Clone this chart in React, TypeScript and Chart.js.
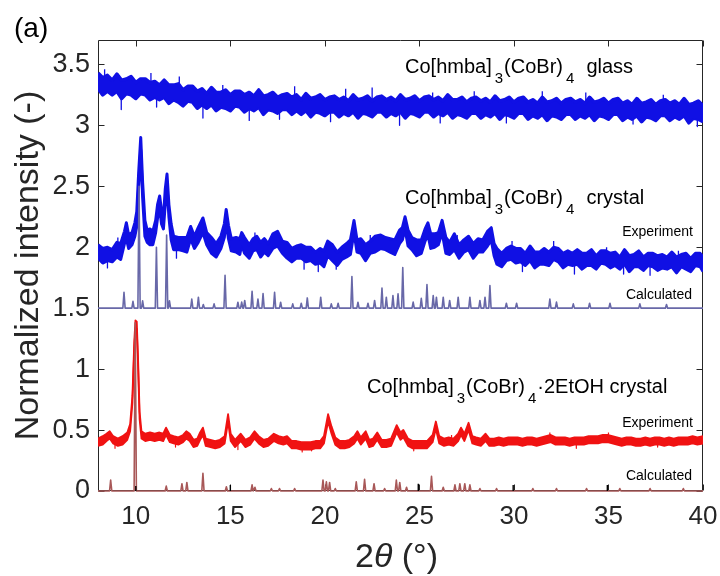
import React, { useEffect, useRef } from 'react';
import { Chart, registerables } from 'chart.js';

Chart.register(...registerables);

// ---------- axes ----------
const xTicks = [10, 15, 20, 25, 30, 35, 40];
const yTicks = [0, 0.5, 1, 1.5, 2, 2.5, 3, 3.5];
const xMin = 8;
const xMax = 40;
const yMin = 0;
const yMax = 3.7;

// ---------- data: [2θ, lower edge, upper edge] of the measured (noisy) band ----------
const glassExp: number[][] = [
  [8.0, 3.3, 3.43], [8.25, 3.25, 3.39], [8.5, 3.28, 3.41], [8.75, 3.25, 3.37], [9.0, 3.28, 3.42],
  [9.25, 3.22, 3.37], [9.5, 3.26, 3.38], [9.75, 3.25, 3.4], [10.0, 3.22, 3.35], [10.25, 3.26, 3.38],
  [10.5, 3.25, 3.38], [10.75, 3.21, 3.35], [11.0, 3.23, 3.36], [11.25, 3.21, 3.33], [11.5, 3.23, 3.37],
  [11.75, 3.18, 3.33], [12.0, 3.21, 3.33], [12.25, 3.19, 3.34], [12.5, 3.16, 3.29], [12.75, 3.2, 3.32],
  [13.0, 3.19, 3.32], [13.25, 3.14, 3.28], [13.5, 3.17, 3.3], [13.75, 3.14, 3.26], [14.0, 3.17, 3.31],
  [14.25, 3.12, 3.27], [14.5, 3.15, 3.27], [14.75, 3.14, 3.29], [15.0, 3.12, 3.25], [15.25, 3.16, 3.28],
  [15.5, 3.15, 3.28], [15.75, 3.11, 3.25], [16.0, 3.14, 3.27], [16.25, 3.12, 3.24], [16.5, 3.15, 3.29],
  [16.75, 3.09, 3.24], [17.0, 3.13, 3.25], [17.25, 3.12, 3.27], [17.5, 3.1, 3.23], [17.75, 3.13, 3.25],
  [18.0, 3.13, 3.26], [18.25, 3.09, 3.23], [18.5, 3.12, 3.25], [18.75, 3.09, 3.21], [19.0, 3.12, 3.26],
  [19.25, 3.07, 3.22], [19.5, 3.11, 3.23], [19.75, 3.1, 3.25], [20.0, 3.08, 3.21], [20.25, 3.11, 3.23],
  [20.5, 3.11, 3.24], [20.75, 3.07, 3.21], [21.0, 3.1, 3.23], [21.25, 3.08, 3.2], [21.5, 3.11, 3.25],
  [21.75, 3.06, 3.21], [22.0, 3.1, 3.22], [22.25, 3.09, 3.24], [22.5, 3.07, 3.2], [22.75, 3.11, 3.23],
  [23.0, 3.11, 3.24], [23.25, 3.07, 3.21], [23.5, 3.1, 3.23], [23.75, 3.08, 3.2], [24.0, 3.11, 3.25],
  [24.25, 3.06, 3.21], [24.5, 3.1, 3.22], [24.75, 3.09, 3.24], [25.0, 3.07, 3.2], [25.25, 3.11, 3.23],
  [25.5, 3.11, 3.24], [25.75, 3.07, 3.21], [26.0, 3.1, 3.23], [26.25, 3.08, 3.2], [26.5, 3.11, 3.25],
  [26.75, 3.06, 3.21], [27.0, 3.09, 3.21], [27.25, 3.08, 3.23], [27.5, 3.06, 3.19], [27.75, 3.1, 3.22],
  [28.0, 3.1, 3.23], [28.25, 3.06, 3.2], [28.5, 3.09, 3.22], [28.75, 3.07, 3.19], [29.0, 3.1, 3.24],
  [29.25, 3.05, 3.2], [29.5, 3.09, 3.21], [29.75, 3.08, 3.23], [30.0, 3.06, 3.19], [30.25, 3.1, 3.22],
  [30.5, 3.1, 3.23], [30.75, 3.05, 3.19], [31.0, 3.08, 3.21], [31.25, 3.06, 3.18], [31.5, 3.09, 3.23],
  [31.75, 3.04, 3.19], [32.0, 3.08, 3.2], [32.25, 3.07, 3.22], [32.5, 3.05, 3.18], [32.75, 3.09, 3.21],
  [33.0, 3.09, 3.22], [33.25, 3.05, 3.19], [33.5, 3.08, 3.21], [33.75, 3.06, 3.18], [34.0, 3.09, 3.23],
  [34.25, 3.04, 3.19], [34.5, 3.08, 3.2], [34.75, 3.07, 3.22], [35.0, 3.05, 3.18], [35.25, 3.09, 3.21],
  [35.5, 3.09, 3.22], [35.75, 3.04, 3.18], [36.0, 3.07, 3.2], [36.25, 3.05, 3.17], [36.5, 3.08, 3.22],
  [36.75, 3.03, 3.18], [37.0, 3.07, 3.19], [37.25, 3.06, 3.21], [37.5, 3.04, 3.17], [37.75, 3.08, 3.2],
  [38.0, 3.08, 3.21], [38.25, 3.04, 3.18], [38.5, 3.07, 3.2], [38.75, 3.05, 3.17], [39.0, 3.08, 3.22],
  [39.25, 3.02, 3.17], [39.5, 3.06, 3.18], [39.75, 3.05, 3.2], [40.0, 3.03, 3.16],
];
// isolated noise spikes: [2θ, from, to]
const glassSpikes: number[][] = [
  [8.35, 3.38, 3.46], [9.23, 3.28, 3.13], [10.8, 3.34, 3.43], [11.1, 3.25, 3.15], [12.3, 3.3, 3.4],
  [13.55, 3.2, 3.06], [14.6, 3.25, 3.33], [16.0, 3.17, 3.04], [17.6, 3.16, 3.05], [18.4, 3.21, 3.32],
  [20.3, 3.13, 3.03], [21.1, 3.2, 3.3], [22.5, 3.2, 3.31], [23.95, 3.12, 3.0], [25.7, 3.2, 3.27],
  [26.1, 3.12, 3.02], [27.9, 3.19, 3.28], [29.6, 3.11, 3.02], [31.5, 3.18, 3.28], [33.8, 3.18, 3.27],
  [36.3, 3.1, 3.01], [37.9, 3.17, 3.25], [39.7, 3.09, 2.99],
];

const crystalExp: number[][] = [
  [8.0, 1.91, 2.02], [8.25, 1.87, 1.99], [8.5, 1.89, 2.0], [8.75, 1.88, 1.98], [9.0, 1.92, 2.04],
  [9.2, 1.9, 2.03], [9.4, 2.03, 2.13], [9.5, 2.07, 2.2], [9.62, 1.99, 2.1], [9.8, 2.02, 2.12],
  [9.95, 2.09, 2.2], [10.05, 2.17, 2.29], [10.15, 2.5, 2.61], [10.26, 2.8, 2.9], [10.36, 2.41, 2.53],
  [10.48, 2.09, 2.22], [10.6, 2.04, 2.14], [10.75, 2.02, 2.15], [10.9, 2.02, 2.13], [11.05, 2.12, 2.22],
  [11.15, 2.24, 2.35], [11.26, 2.32, 2.42], [11.36, 2.19, 2.3], [11.46, 2.15, 2.25], [11.56, 2.36, 2.48],
  [11.65, 2.5, 2.6], [11.75, 2.25, 2.35], [11.87, 2.06, 2.19], [12.0, 1.98, 2.09], [12.25, 1.98, 2.08],
  [12.5, 1.97, 2.08], [12.7, 1.96, 2.08], [12.9, 2.07, 2.17], [13.1, 1.99, 2.09], [13.3, 2.04, 2.16],
  [13.55, 2.12, 2.24], [13.75, 2.02, 2.12], [14.0, 1.95, 2.08], [14.25, 1.92, 2.03], [14.5, 1.99, 2.09],
  [14.68, 2.08, 2.19], [14.78, 2.21, 2.31], [14.9, 2.07, 2.18], [15.05, 1.97, 2.07], [15.3, 1.96, 2.08],
  [15.5, 1.94, 2.07], [15.6, 2.02, 2.12], [15.75, 1.95, 2.08], [16.0, 1.91, 2.02], [16.2, 1.97, 2.07],
  [16.4, 1.98, 2.09], [16.6, 1.92, 2.04], [16.8, 1.96, 2.07], [17.0, 1.93, 2.03], [17.25, 1.99, 2.11],
  [17.5, 2.01, 2.13], [17.75, 1.95, 2.05], [18.0, 1.91, 2.04], [18.25, 1.88, 1.99], [18.5, 1.91, 2.01],
  [18.75, 1.91, 2.02], [19.0, 1.88, 2.0], [19.25, 1.89, 2.0], [19.5, 1.86, 1.96], [19.75, 1.87, 1.99],
  [19.95, 1.84, 1.97], [20.15, 1.93, 2.05], [20.4, 1.89, 2.02], [20.65, 1.85, 1.96], [20.9, 1.9, 2.0],
  [21.15, 1.92, 2.03], [21.35, 1.94, 2.06], [21.54, 2.12, 2.22], [21.7, 1.96, 2.06], [21.9, 1.95, 2.07],
  [22.15, 1.89, 2.02], [22.4, 1.95, 2.05], [22.65, 1.96, 2.09], [22.95, 1.99, 2.1], [23.2, 1.98, 2.08],
  [23.45, 1.96, 2.07], [23.7, 1.94, 2.06], [23.95, 2.03, 2.14], [24.1, 2.06, 2.16], [24.24, 2.15, 2.25],
  [24.4, 2.01, 2.14], [24.6, 1.98, 2.08], [24.85, 1.93, 2.06], [25.1, 1.95, 2.06], [25.3, 2.05, 2.15],
  [25.45, 2.1, 2.2], [25.6, 1.99, 2.11], [25.8, 2.0, 2.11], [26.0, 2.02, 2.12], [26.2, 2.12, 2.22],
  [26.4, 1.95, 2.08], [26.6, 1.94, 2.04], [26.85, 1.98, 2.11], [27.1, 1.91, 2.02], [27.35, 1.96, 2.06],
  [27.6, 1.98, 2.09], [27.85, 1.91, 2.03], [28.1, 1.96, 2.07], [28.35, 1.96, 2.06], [28.6, 2.01, 2.13],
  [28.8, 2.06, 2.16], [28.95, 1.93, 2.03], [29.1, 1.86, 1.99], [29.35, 1.84, 1.95], [29.6, 1.89, 1.99],
  [29.85, 1.9, 2.01], [30.1, 1.87, 1.99], [30.35, 1.88, 1.99], [30.6, 1.85, 1.95], [30.85, 1.89, 2.01],
  [31.1, 1.83, 1.96], [31.35, 1.86, 1.96], [31.6, 1.86, 1.99], [31.85, 1.85, 1.96], [32.1, 1.9, 2.0],
  [32.35, 1.88, 1.99], [32.6, 1.83, 1.95], [32.85, 1.86, 1.97], [33.1, 1.85, 1.95], [33.35, 1.86, 1.98],
  [33.6, 1.82, 1.95], [33.85, 1.85, 1.95], [34.1, 1.85, 1.98], [34.35, 1.82, 1.93], [34.6, 1.87, 1.97],
  [34.85, 1.86, 1.97], [35.1, 1.83, 1.95], [35.35, 1.85, 1.96], [35.6, 1.82, 1.92], [35.85, 1.86, 1.98],
  [36.1, 1.8, 1.93], [36.35, 1.84, 1.94], [36.6, 1.84, 1.97], [36.85, 1.81, 1.92], [37.1, 1.85, 1.95],
  [37.35, 1.84, 1.95], [37.6, 1.81, 1.93], [37.85, 1.83, 1.94], [38.1, 1.82, 1.92], [38.35, 1.84, 1.96],
  [38.6, 1.79, 1.92], [38.85, 1.84, 1.94], [39.1, 1.82, 1.95], [39.35, 1.8, 1.91], [39.6, 1.85, 1.95],
  [39.85, 1.84, 1.95], [40.0, 1.8, 1.92],
];
const crystalSpikes: number[][] = [
  [8.5, 1.93, 1.83], [9.05, 1.98, 2.08], [12.15, 2.02, 1.91], [16.3, 2.02, 2.12], [18.9, 1.94, 1.82],
  [19.65, 1.9, 1.8], [20.6, 1.93, 1.82], [22.4, 2.0, 2.1], [27.0, 2.0, 2.1], [29.9, 1.95, 2.05],
  [30.45, 1.92, 1.8], [32.1, 1.95, 2.05], [33.2, 1.9, 1.78], [34.9, 1.92, 2.0], [35.8, 1.9, 1.78],
  [37.2, 1.89, 1.77], [38.7, 1.89, 1.97],
];

const etohExp: number[][] = [
  [8.0, 0.37, 0.43], [8.25, 0.38, 0.45], [8.45, 0.41, 0.47], [8.62, 0.43, 0.49], [8.8, 0.39, 0.45],
  [9.05, 0.37, 0.43], [9.3, 0.38, 0.45], [9.55, 0.42, 0.48], [9.7, 0.49, 0.55], [9.82, 0.72, 0.78],
  [9.92, 1.17, 1.23], [9.98, 1.34, 1.4], [10.05, 1.33, 1.39], [10.12, 1.02, 1.08], [10.2, 0.59, 0.65],
  [10.3, 0.43, 0.49], [10.5, 0.41, 0.47], [10.75, 0.42, 0.48], [11.0, 0.41, 0.47], [11.25, 0.42, 0.48],
  [11.45, 0.41, 0.47], [11.6, 0.46, 0.52], [11.8, 0.4, 0.46], [12.0, 0.39, 0.45], [12.25, 0.38, 0.44],
  [12.5, 0.4, 0.46], [12.67, 0.43, 0.49], [12.85, 0.41, 0.47], [13.05, 0.36, 0.42], [13.25, 0.37, 0.43],
  [13.4, 0.42, 0.48], [13.55, 0.46, 0.52], [13.7, 0.37, 0.43], [13.95, 0.36, 0.42], [14.2, 0.35, 0.41],
  [14.45, 0.36, 0.42], [14.7, 0.39, 0.45], [14.88, 0.57, 0.63], [15.02, 0.41, 0.47], [15.25, 0.36, 0.42],
  [15.55, 0.41, 0.47], [15.8, 0.36, 0.42], [16.05, 0.38, 0.44], [16.28, 0.43, 0.49], [16.5, 0.39, 0.45],
  [16.75, 0.36, 0.42], [17.0, 0.37, 0.43], [17.3, 0.41, 0.47], [17.55, 0.39, 0.45], [17.8, 0.38, 0.44],
  [18.0, 0.39, 0.45], [18.25, 0.35, 0.41], [18.5, 0.35, 0.41], [18.75, 0.34, 0.4], [19.0, 0.34, 0.4],
  [19.25, 0.34, 0.4], [19.5, 0.35, 0.41], [19.75, 0.35, 0.41], [19.95, 0.39, 0.45], [20.17, 0.57, 0.63],
  [20.35, 0.47, 0.53], [20.55, 0.38, 0.44], [20.8, 0.35, 0.41], [21.05, 0.35, 0.41], [21.3, 0.36, 0.42],
  [21.55, 0.39, 0.45], [21.72, 0.43, 0.49], [21.9, 0.38, 0.44], [22.16, 0.43, 0.49], [22.35, 0.36, 0.42],
  [22.55, 0.37, 0.43], [22.77, 0.42, 0.48], [23.0, 0.36, 0.42], [23.25, 0.36, 0.42], [23.5, 0.37, 0.43],
  [23.8, 0.48, 0.54], [24.0, 0.42, 0.48], [24.15, 0.44, 0.5], [24.4, 0.37, 0.43], [24.65, 0.35, 0.41],
  [24.9, 0.35, 0.41], [25.15, 0.35, 0.41], [25.4, 0.35, 0.41], [25.7, 0.4, 0.46], [25.87, 0.51, 0.57],
  [26.05, 0.39, 0.45], [26.3, 0.37, 0.43], [26.55, 0.38, 0.44], [26.8, 0.37, 0.43], [27.05, 0.41, 0.47],
  [27.2, 0.46, 0.52], [27.38, 0.41, 0.47], [27.6, 0.5, 0.56], [27.8, 0.39, 0.45], [28.0, 0.38, 0.44],
  [28.25, 0.37, 0.43], [28.5, 0.41, 0.47], [28.7, 0.37, 0.43], [28.95, 0.37, 0.43], [29.2, 0.38, 0.44],
  [29.45, 0.37, 0.43], [29.7, 0.38, 0.44], [29.95, 0.38, 0.44], [30.2, 0.38, 0.44], [30.45, 0.37, 0.43],
  [30.7, 0.38, 0.44], [30.95, 0.38, 0.44], [31.2, 0.37, 0.43], [31.45, 0.38, 0.44], [31.7, 0.39, 0.45],
  [31.95, 0.4, 0.46], [32.2, 0.38, 0.44], [32.45, 0.38, 0.44], [32.7, 0.38, 0.44], [32.95, 0.37, 0.43],
  [33.2, 0.38, 0.44], [33.45, 0.38, 0.44], [33.7, 0.38, 0.44], [33.95, 0.39, 0.45], [34.2, 0.39, 0.45],
  [34.45, 0.39, 0.45], [34.7, 0.4, 0.46], [34.95, 0.4, 0.46], [35.2, 0.39, 0.45], [35.45, 0.38, 0.44],
  [35.7, 0.37, 0.43], [35.95, 0.38, 0.44], [36.2, 0.38, 0.44], [36.45, 0.37, 0.43], [36.7, 0.37, 0.43],
  [36.95, 0.38, 0.44], [37.2, 0.37, 0.43], [37.45, 0.38, 0.44], [37.7, 0.38, 0.44], [37.95, 0.37, 0.43],
  [38.2, 0.38, 0.44], [38.45, 0.37, 0.43], [38.7, 0.38, 0.44], [38.95, 0.38, 0.44], [39.2, 0.38, 0.44],
  [39.45, 0.39, 0.45], [39.7, 0.38, 0.44], [40.0, 0.39, 0.45],
];
const etohSpikes: number[][] = [
  [8.9, 0.4, 0.35], [12.1, 0.42, 0.36], [15.4, 0.39, 0.34], [18.8, 0.37, 0.32], [19.3, 0.37, 0.33],
  [24.7, 0.38, 0.33], [26.7, 0.4, 0.46], [31.9, 0.43, 0.48], [33.3, 0.41, 0.35], [35.0, 0.43, 0.48],
  [37.6, 0.41, 0.36],
];

// ---------- calculated patterns: [2θ, peak top] ----------
const crystalCalcBase = 1.5;
const crystalCalcPeaks: number[][] = [
  [9.375, 1.63], [9.85, 1.556], [10.17, 2.5], [10.36, 1.56], [11.09, 2.0], [11.63, 2.1], [11.78, 1.56],
  [12.96, 1.575], [13.31, 1.59], [13.57, 1.53], [14.14, 1.535], [14.72, 1.77], [15.4, 1.549], [15.6, 1.55],
  [15.76, 1.563], [16.15, 1.638], [16.46, 1.575], [16.73, 1.62], [17.34, 1.63], [17.66, 1.549], [18.3, 1.535],
  [18.75, 1.54], [19.07, 1.584], [19.78, 1.59], [20.34, 1.535], [20.7, 1.54], [21.43, 1.76], [21.75, 1.549],
  [22.28, 1.54], [22.63, 1.563], [23.02, 1.666], [23.25, 1.59], [23.6, 1.603], [23.87, 1.617], [24.12, 1.834],
  [24.67, 1.55], [25.1, 1.58], [25.4, 1.693], [25.73, 1.603], [25.9, 1.59], [26.26, 1.59], [26.6, 1.563],
  [27.05, 1.59], [27.67, 1.59], [28.2, 1.563], [28.47, 1.59], [28.73, 1.685], [29.6, 1.54], [30.14, 1.54],
  [31.9, 1.575], [32.25, 1.55], [33.14, 1.535], [34.0, 1.54], [35.08, 1.54], [36.66, 1.535], [38.07, 1.53],
];

const etohCalcBase = 0;
const etohCalcPeaks: number[][] = [
  [8.67, 0.09], [9.97, 1.38], [11.61, 0.04], [12.44, 0.06], [12.7, 0.07], [13.55, 0.145], [14.79, 0.035],
  [16.15, 0.05], [16.3, 0.03], [17.17, 0.02], [17.6, 0.02], [18.4, 0.02], [19.9, 0.09], [20.08, 0.075],
  [20.25, 0.07], [20.55, 0.02], [21.66, 0.075], [22.1, 0.095], [22.6, 0.06], [23.16, 0.02], [23.78, 0.09],
  [23.96, 0.07], [24.32, 0.03], [25.64, 0.12], [26.26, 0.03], [26.88, 0.05], [27.14, 0.06], [27.4, 0.06],
  [27.67, 0.05], [28.2, 0.02], [29.08, 0.02], [31.0, 0.02], [32.25, 0.02], [33.84, 0.02], [35.6, 0.02],
  [37.2, 0.02], [38.96, 0.02],
];

const blackMarks: number[][] = [
  [10.0, 0.04], [15.0, 0.05], [24.94, 0.06], [29.96, 0.05], [34.94, 0.05],
];

// ---------- text ----------
type Part = { t: string; sub?: boolean };
const sampleLabels: { x: number; y: number; parts: Part[] }[] = [
  { x: 24.24, y: 3.426, parts: [{ t: 'Co[hmba]' }, { t: '3', sub: true }, { t: '(CoBr)' }, { t: '4', sub: true }, { t: '  glass' }] },
  { x: 24.24, y: 2.355, parts: [{ t: 'Co[hmba]' }, { t: '3', sub: true }, { t: '(CoBr)' }, { t: '4', sub: true }, { t: '  crystal' }] },
  { x: 22.23, y: 0.801, parts: [{ t: 'Co[hmba]' }, { t: '3', sub: true }, { t: '(CoBr)' }, { t: '4', sub: true }, { t: '·2EtOH crystal' }] },
];
const smallLabels: { x: number; y: number; t: string }[] = [
  { x: 39.47, y: 2.093, t: 'Experiment' },
  { x: 39.42, y: 1.578, t: 'Calculated' },
  { x: 39.47, y: 0.523, t: 'Experiment' },
  { x: 39.42, y: 0.09, t: 'Calculated' },
];
const panelLabel = '(a)';
const yTitle = 'Normalized intensity (-)';

// ---------- styles ----------
const FONT = '"Liberation Sans", Arial, Helvetica, sans-serif';
const BLUE = 'rgb(16,16,228)';
const PURPLE = 'rgb(104,104,168)';
const RED = 'rgb(240,18,18)';
const BROWN = 'rgb(168,88,88)';
const AXIS = '#262626';
const STICK_HW = 0.06;

function bandEdge(rows: number[][], i: number) {
  return rows.map((r) => ({ x: r[0], y: r[i] }));
}

function spikeSegments(rows: number[][]) {
  const pts: { x: number; y: number | null }[] = [];
  for (const [x, a, b] of rows) {
    pts.push({ x, y: a }, { x, y: b }, { x, y: null });
  }
  return pts;
}

function stickProfile(peaks: number[][], base: number) {
  const pts: { x: number; y: number }[] = [{ x: xMin, y: base }];
  for (const [x, top] of peaks) {
    pts.push({ x: x - STICK_HW, y: base }, { x, y: top }, { x: x + STICK_HW, y: base });
  }
  pts.push({ x: xMax, y: base });
  return pts;
}

function stickMarks(peaks: number[][]) {
  const pts: { x: number; y: number | null }[] = [];
  for (const [x, top] of peaks) {
    pts.push({ x, y: 0 }, { x, y: top }, { x, y: null });
  }
  return pts;
}

function drawRich(ctx: CanvasRenderingContext2D, x: number, y: number, parts: Part[]) {
  let cx = x;
  ctx.textAlign = 'left';
  ctx.textBaseline = 'alphabetic';
  for (const p of parts) {
    if (p.sub) {
      ctx.font = `15px ${FONT}`;
      cx += 3;
      ctx.fillText(p.t, cx, y + 10);
      cx += ctx.measureText(p.t).width + 1;
    } else {
      ctx.font = `20px ${FONT}`;
      ctx.fillText(p.t, cx, y);
      cx += ctx.measureText(p.t).width;
    }
  }
}

const decorations = {
  id: 'decorations',
  beforeDatasetsDraw(chart: any) {
    const { ctx, chartArea: a, scales } = chart;
    const xs = scales.x;
    const ys = scales.y;
    ctx.save();
    ctx.strokeStyle = AXIS;
    ctx.lineWidth = 1;
    const L = Math.round(a.left) + 0.5;
    const R = Math.round(a.right) - 0.5;
    const T = Math.round(a.top) + 0.5;
    const B = Math.round(a.bottom) - 0.5;
    ctx.beginPath();
    ctx.rect(L, T, R - L, B - T);
    const tl = 6;
    for (const v of xTicks) {
      const p = Math.round(xs.getPixelForValue(v)) + 0.5;
      ctx.moveTo(p, B);
      ctx.lineTo(p, B - tl);
      ctx.moveTo(p, T);
      ctx.lineTo(p, T + tl);
    }
    for (const v of yTicks) {
      const p = Math.round(ys.getPixelForValue(v)) + 0.5;
      ctx.moveTo(L, p);
      ctx.lineTo(L + tl, p);
      ctx.moveTo(R, p);
      ctx.lineTo(R - tl, p);
    }
    ctx.stroke();
    ctx.restore();
  },
  afterDraw(chart: any) {
    const { ctx, scales, chartArea: a } = chart;
    const xs = scales.x;
    const ys = scales.y;
    ctx.save();
    ctx.fillStyle = '#000';
    for (const l of sampleLabels) {
      drawRich(ctx, xs.getPixelForValue(l.x), ys.getPixelForValue(l.y), l.parts);
    }
    ctx.font = `14px ${FONT}`;
    ctx.textAlign = 'right';
    ctx.textBaseline = 'alphabetic';
    for (const l of smallLabels) {
      ctx.fillText(l.t, xs.getPixelForValue(l.x), ys.getPixelForValue(l.y));
    }
    // panel label
    ctx.font = `28px ${FONT}`;
    ctx.textAlign = 'left';
    ctx.fillText(panelLabel, 14, 37);
    // x axis title: 2θ (°) with italic θ
    ctx.fillStyle = AXIS;
    const parts = [
      { t: '2', f: `34px ${FONT}` },
      { t: 'θ', f: `italic 34px ${FONT}` },
      { t: ' (°)', f: `34px ${FONT}` },
    ];
    let w = 0;
    for (const p of parts) {
      ctx.font = p.f;
      w += ctx.measureText(p.t).width;
    }
    let cx = (a.left + a.right) / 2 - 4 - w / 2;
    for (const p of parts) {
      ctx.font = p.f;
      ctx.fillText(p.t, cx, 567);
      cx += ctx.measureText(p.t).width;
    }
    ctx.restore();
  },
};

export default function App() {
  const ref = useRef<HTMLCanvasElement | null>(null);
  useEffect(() => {
    if (!ref.current) return;
    const line = (extra: any) => ({
      pointRadius: 0,
      tension: 0,
      borderJoinStyle: 'round',
      ...extra,
    });
    const chart = new Chart(ref.current, {
      type: 'line',
      data: {
        datasets: [
          line({ data: bandEdge(glassExp, 2), borderColor: BLUE, backgroundColor: BLUE, borderWidth: 3.5, fill: '+1', order: 3 }),
          line({ data: bandEdge(glassExp, 1), borderColor: BLUE, borderWidth: 3.5, fill: false, order: 3 }),
          line({ data: spikeSegments(glassSpikes), borderColor: BLUE, borderWidth: 1.3, fill: false, order: 3, spanGaps: false }),
          line({ data: bandEdge(crystalExp, 2), borderColor: BLUE, backgroundColor: BLUE, borderWidth: 3, fill: '+1', order: 3 }),
          line({ data: bandEdge(crystalExp, 1), borderColor: BLUE, borderWidth: 3, fill: false, order: 3 }),
          line({ data: spikeSegments(crystalSpikes), borderColor: BLUE, borderWidth: 1.3, fill: false, order: 3, spanGaps: false }),
          line({ data: stickProfile(crystalCalcPeaks, crystalCalcBase), borderColor: PURPLE, borderWidth: 1.6, fill: false, order: 1 }),
          line({ data: bandEdge(etohExp, 2), borderColor: RED, backgroundColor: RED, borderWidth: 1.8, fill: '+1', order: 3 }),
          line({ data: bandEdge(etohExp, 1), borderColor: RED, borderWidth: 1.8, fill: false, order: 3 }),
          line({ data: spikeSegments(etohSpikes), borderColor: RED, borderWidth: 1.2, fill: false, order: 3, spanGaps: false }),
          line({ data: stickProfile(etohCalcPeaks, etohCalcBase), borderColor: BROWN, borderWidth: 1.6, fill: false, order: 1, clip: 3 }),
          line({ data: stickMarks(blackMarks), borderColor: '#000', borderWidth: 1.4, fill: false, order: 0, spanGaps: false, clip: 3 }),
        ],
      },
      options: {
        responsive: false,
        animation: false,
        devicePixelRatio: 1,
        layout: { padding: { left: 0, top: 40, right: 17, bottom: 0 } },
        plugins: { legend: { display: false }, tooltip: { enabled: false } },
        scales: {
          x: {
            type: 'linear',
            min: xMin,
            max: xMax,
            afterBuildTicks: (s: any) => {
              s.ticks = xTicks.map((v) => ({ value: v }));
            },
            afterFit: (s: any) => {
              s.height = 85;
            },
            grid: { display: false },
            border: { display: false },
            ticks: {
              color: AXIS,
              font: { family: FONT, size: 26 },
              padding: 2,
              maxRotation: 0,
              autoSkip: false,
              callback: (v: any) => String(v),
            },
          },
          y: {
            type: 'linear',
            min: yMin,
            max: yMax,
            afterBuildTicks: (s: any) => {
              s.ticks = yTicks.map((v) => ({ value: v }));
            },
            afterFit: (s: any) => {
              s.width = 98;
            },
            grid: { display: false },
            border: { display: false },
            ticks: {
              color: AXIS,
              font: { family: FONT, size: 27 },
              padding: 0,
              autoSkip: false,
              callback: (v: any) => String(v),
            },
            title: {
              display: true,
              text: yTitle,
              color: AXIS,
              font: { family: FONT, size: 34 },
              padding: { top: 8, bottom: 0 },
            },
          },
        },
      },
      plugins: [decorations],
    } as any);
    return () => chart.destroy();
  }, []);
  return (
    <div style={{ position: 'fixed', left: 0, top: 0, width: 720, height: 576, background: '#fff' }}>
      <canvas ref={ref} width={720} height={576} />
    </div>
  );
}
